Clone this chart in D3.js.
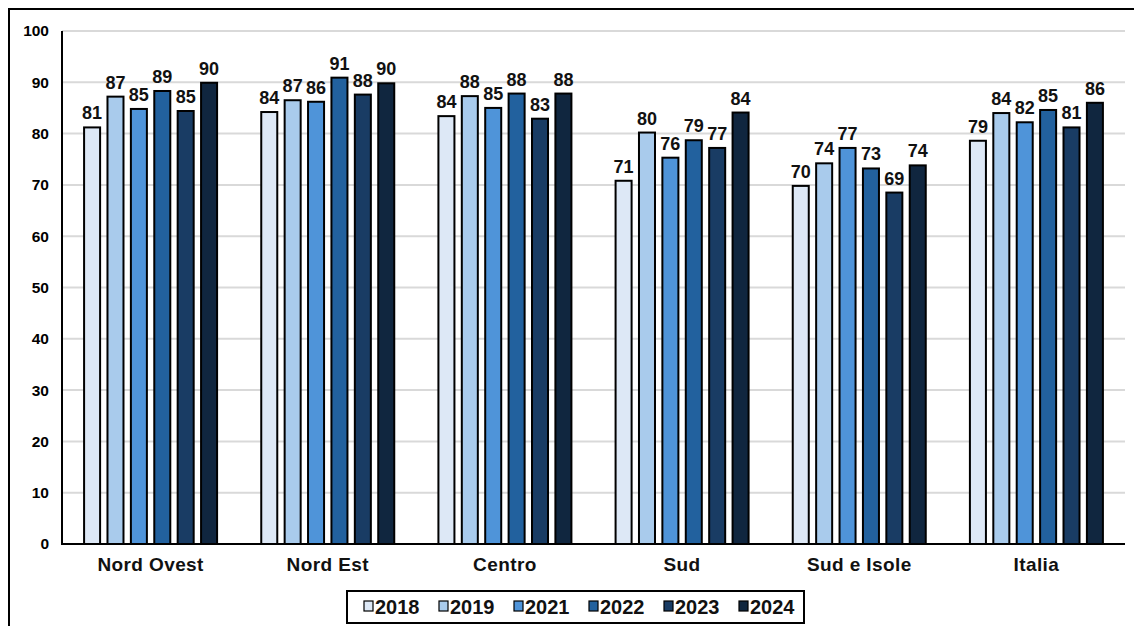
<!DOCTYPE html>
<html><head><meta charset="utf-8">
<script src="https://cdn.jsdelivr.net/npm/d3@7"></script>
<style>
html,body{margin:0;padding:0;background:#fff;}
svg{display:block;font-family:"Liberation Sans",Arial,sans-serif;font-weight:bold;}
</style></head>
<body>
<svg id="chart" width="1134" height="626"></svg>
<script>
const categories = ["Nord Ovest","Nord Est","Centro","Sud","Sud e Isole","Italia"];
const years = ["2018","2019","2021","2022","2023","2024"];
const values2018 = [81.4, 84.4, 83.6, 71.0, 70.0, 78.8];
const values2019 = [87.4, 86.7, 87.5, 80.4, 74.4, 84.2];
const values2021 = [85.0, 86.4, 85.2, 75.5, 77.4, 82.4];
const values2022 = [88.5, 91.1, 88.0, 78.9, 73.4, 84.8];
const values2023 = [84.6, 87.8, 83.1, 77.4, 68.7, 81.4];
const values2024 = [90.1, 90.0, 88.0, 84.3, 74.0, 86.2];
const yTicks = [0,10,20,30,40,50,60,70,80,90,100];
const colors = ["#dde8f6","#a9cbec","#4f94d9","#22619e","#193c64","#10263f"];

const series = [values2018, values2019, values2021, values2022, values2023, values2024];

(function(){
const svg = d3.select("#chart");

// outer frame
svg.append("line").attr("x1",9).attr("x2",1134).attr("y1",9).attr("y2",9).attr("stroke","#000").attr("stroke-width",2);
svg.append("line").attr("x1",9).attr("x2",9).attr("y1",8).attr("y2",626).attr("stroke","#000").attr("stroke-width",2);

const pLeft = 62, pRight = 1125, pTop = 31, pBottom = 544;
const y = d3.scaleLinear().domain([0,100]).range([pBottom, pTop]);
const x0 = d3.scaleBand().domain(categories).range([pLeft, pRight]).paddingInner(0.238).paddingOuter(0.119);
const x1 = d3.scaleBand().domain(years).range([0, x0.bandwidth()]).paddingInner(0.23).paddingOuter(0);

// gridlines
svg.append("g").selectAll("line").data(yTicks.filter(d=>d>0)).join("line")
  .attr("x1", pLeft).attr("x2", pRight)
  .attr("y1", d=>y(d)).attr("y2", d=>y(d))
  .attr("stroke","#d9d9d9").attr("stroke-width",2);

// y tick labels
const yAxis = d3.axisLeft(y).tickValues(yTicks).tickSize(0).tickPadding(13);
const gy = svg.append("g").attr("transform",`translate(${pLeft},0)`).call(yAxis);
gy.select(".domain").remove();
gy.selectAll("text").attr("font-size",15.5).attr("font-weight","bold").attr("fill","#000")
  .attr("font-family","'Liberation Sans',Arial,sans-serif");

// bars
const groups = svg.append("g").selectAll("g").data(categories).join("g")
  .attr("transform", d=>`translate(${x0(d)},0)`);

groups.each(function(cat, ci){
  const g = d3.select(this);
  years.forEach((yr, si)=>{
    const v = series[si][ci];
    g.append("rect")
      .attr("x", x1(yr)+1).attr("width", x1.bandwidth()-2)
      .attr("y", y(v)+1).attr("height", y(0)-y(v)-1)
      .attr("fill", colors[si]).attr("stroke","#000").attr("stroke-width",2);
    g.append("text")
      .attr("x", x1(yr)+x1.bandwidth()/2).attr("y", y(v)-7)
      .attr("text-anchor","middle").attr("font-size",18).attr("fill","#111")
      .text(Math.round(v));
  });
});

// axes lines
svg.append("line").attr("x1",pLeft).attr("x2",pLeft).attr("y1",pTop).attr("y2",pBottom+1).attr("stroke","#000").attr("stroke-width",2);
svg.append("line").attr("x1",pLeft).attr("x2",pRight).attr("y1",pBottom).attr("y2",pBottom).attr("stroke","#000").attr("stroke-width",2);

// category labels
const xAxis = d3.axisBottom(x0).tickSize(0).tickPadding(14);
const gx = svg.append("g").attr("transform",`translate(0,${pBottom})`).call(xAxis);
gx.select(".domain").remove();
gx.selectAll("text").attr("font-size",19).attr("letter-spacing",0.4).attr("font-weight","bold").attr("fill","#111")
  .attr("font-family","'Liberation Sans',Arial,sans-serif");

// legend
const lg = svg.append("g");
lg.append("rect").attr("x",347).attr("y",591).attr("width",457).attr("height",32)
  .attr("fill","#fff").attr("stroke","#000").attr("stroke-width",2);
years.forEach((yr, i)=>{
  const lx = 364 + i*75;
  lg.append("rect").attr("x",lx).attr("y",601).attr("width",9).attr("height",10)
    .attr("fill",colors[i]).attr("stroke","#000").attr("stroke-width",1.2);
  lg.append("text").attr("x",lx+11).attr("y",614).attr("font-size",20).attr("fill","#111").text(yr);
});
})();
</script>
</body></html>
